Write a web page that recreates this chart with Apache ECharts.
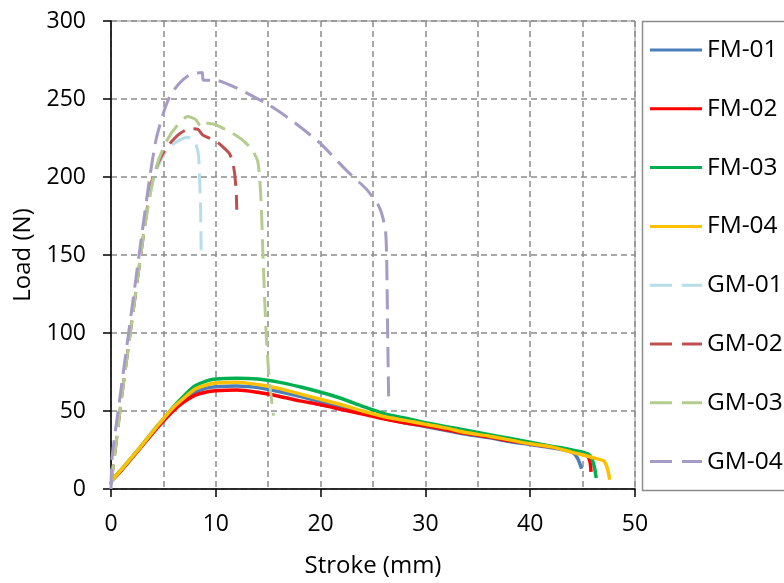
<!DOCTYPE html>
<html>
<head>
<meta charset="utf-8">
<script src="https://cdn.jsdelivr.net/npm/echarts@6/dist/echarts.min.js"></script>
<style>html,body{margin:0;padding:0;background:#fff;}#c{width:784px;height:583px;}</style>
</head>
<body>
<div id="c"></div>
<script>
// ---- data (stroke mm, load N) ----
var seriesNames = ['FM-01','FM-02','FM-03','FM-04','GM-01','GM-02','GM-03','GM-04'];
var xTicks = [0,10,20,30,40,50];
var yTicks = [0,50,100,150,200,250,300];

var fm01 = [[0,5],[1,12],[2,20],[3,28],[4,36],[5,44],[6,51.5],[7,57.5],[8,62],[9,64.5],[10,65.5],[12,66],[14,65],[16,62.5],[18,59.5],[20,56],[22,52.5],[24,49],[26,45.5],[28,42.5],[30,40],[32,37.5],[34,35],[36,33],[38,30.5],[40,28.5],[42,26.5],[44,23.5],[44.5,20],[44.9,13]];
var fm02 = [[0,5],[1,12],[2,20],[3,28],[4,36],[5,43.5],[6,50.5],[7,56],[8,60],[9,62],[10,63],[12,63.5],[14,62],[16,59.5],[18,56.5],[20,54],[22,51],[24,48],[26,45],[28,42.5],[30,40.5],[32,38],[34,35.5],[36,33.5],[38,31],[40,29],[42,27],[44,24.5],[45.5,21],[45.8,11]];
var fm03 = [[0,5],[1,12.5],[2,20.5],[3,28.5],[4,37],[5,45],[6,53],[7,60],[8,66],[9,69],[10,70.5],[12,71],[14,70.5],[16,68.5],[18,65.5],[20,62],[22,58],[24,53],[26,48.5],[28,45.5],[30,42.5],[32,40],[34,37.5],[36,35],[38,32.5],[40,30],[42,27.5],[44,25],[45.7,21.5],[46.3,7]];
var fm04 = [[0,5],[1,12.5],[2,20.5],[3,28.5],[4,37],[5,45],[6,52.5],[7,58.5],[8,64],[9,66.5],[10,68],[12,68.5],[14,67],[16,64.5],[18,61],[20,57.5],[22,54],[24,50],[26,46.5],[28,44],[30,41.5],[32,39],[34,36],[36,34],[38,31.5],[40,29],[42,27],[44,23.5],[46.3,19.5],[47.1,17.5],[47.6,6]];
var gm01 = [[0,3],[0.5,30],[1,58],[2,108],[3,158],[3.5,180],[4,197],[4.5,207],[5,214],[5.6,219.5],[6.5,223.5],[7.3,225.5],[7.8,224],[8.1,221],[8.35,214],[8.45,200],[8.55,180],[8.6,153]];
var gm02 = [[0,3],[0.5,30],[1,58],[2,108],[3,158],[3.5,182],[3.8,195],[4.5,209],[5.3,219],[6.5,227.5],[7.5,231],[8.3,230.5],[8.75,227],[10,223],[10.8,218.5],[11.3,215],[11.6,210],[11.8,202],[11.95,190],[12,179]];
var gm03 = [[0,3],[0.5,30],[1,58],[2,108],[3,158],[3.5,180],[4,198],[4.6,212],[5.3,223],[6.2,232],[7.3,238.8],[8.1,236.7],[8.5,233],[8.6,235],[9.1,234.6],[10,233.5],[11.6,228],[12.5,224],[13.2,219.6],[13.6,216],[14,210],[14.2,198],[14.35,180],[14.5,150],[14.8,100],[15.1,70],[15.5,47]];
var gm04 = [[0,0],[0.1,20],[1,66],[2,116],[3,166],[3.7,200],[4.3,224],[5,241],[5.6,251.5],[6.5,260],[7.5,265.5],[8.7,267],[8.8,262],[10,262],[12.3,256],[15.1,246],[17.3,236],[19.9,222],[22.5,204],[24.4,192],[25.5,182],[25.9,175],[26.2,165],[26.3,150],[26.4,100],[26.5,55]];

var allData = [fm01,fm02,fm03,fm04,gm01,gm02,gm03,gm04];
var colors = ['#4a7ebb','#ff0000','#00b050','#ffc000','#b7dde8','#c0504d','#b4cc8e','#a69bc4'];

var FONT = '"Open Sans", sans-serif';
var series = seriesNames.map(function(n,i){
  var dashed = i >= 4;
  return {
    name: n, type: 'line', data: allData[i], symbol: 'none', showSymbol: false,
    smooth: dashed ? 0.2 : 0.3,
    lineStyle: {color: colors[i], width: dashed ? 3 : 3.5, type: dashed ? [20,9] : 'solid', cap: 'butt'},
    itemStyle: {color: colors[i]},
    z: 2 + i
  };
});

// legend drawn as graphic elements (line sample + real text)
var legendGraphics = [{
  type: 'rect', shape: {x: 642.5, y: 21.5, width: 200, height: 469},
  style: {fill: 'none', stroke: '#8c8c8c', lineWidth: 1.5}, silent: true, z: 0
}];
seriesNames.forEach(function(n,i){
  var cy = 50 + i * 58.8;
  var dashed = i >= 4;
  legendGraphics.push({
    type: 'line', shape: {x1: 650, y1: cy, x2: 702, y2: cy},
    style: {stroke: colors[i], lineWidth: 3, lineDash: dashed ? [22,10] : null, lineCap: 'butt'},
    silent: true, z: 10
  });
  legendGraphics.push({
    type: 'text', x: 707, y: cy,
    style: {text: n, fill: '#000', font: '24.5px ' + FONT, textVerticalAlign: 'middle', verticalAlign: 'middle', textAlign: 'left', align: 'left'},
    silent: true, z: 10
  });
});

var chart = echarts.init(document.getElementById('c'), null, {renderer:'canvas'});
chart.setOption({
  animation: false,
  backgroundColor: '#fff',
  color: colors,
  grid: {left: 111, top: 21, right: 149, bottom: 93, show: true, borderColor: '#8c8c8c', borderWidth: 1},
  xAxis: {
    type: 'value', min: xTicks[0], max: xTicks[xTicks.length-1], interval: 10,
    name: 'Stroke (mm)', nameLocation: 'middle', nameGap: 65,
    nameTextStyle: {fontFamily: FONT, fontSize: 24, color: '#000'},
    axisLine: {show: true, onZero: false, lineStyle: {color: '#000', width: 1.5}},
    axisTick: {show: true, inside: false, length: 8, lineStyle: {color: '#000', width: 1.5}},
    minorTick: {show: false, splitNumber: 2},
    axisLabel: {fontFamily: FONT, fontSize: 23, color: '#000', margin: 24},
    splitLine: {show: true, lineStyle: {color: '#8c8c8c', type: [6,4], width: 1.5}},
    minorSplitLine: {show: true, lineStyle: {color: '#8c8c8c', type: [6,4], width: 1.5}}
  },
  yAxis: {
    type: 'value', min: yTicks[0], max: yTicks[yTicks.length-1], interval: 50,
    name: 'Load (N)', nameLocation: 'middle', nameGap: 76,
    nameTextStyle: {fontFamily: FONT, fontSize: 24, color: '#000'},
    axisLine: {show: true, onZero: false, lineStyle: {color: '#000', width: 1.5}},
    axisTick: {show: true, inside: false, length: 8, lineStyle: {color: '#000', width: 1.5}},
    axisLabel: {fontFamily: FONT, fontSize: 23, color: '#000', margin: 25},
    splitLine: {show: true, lineStyle: {color: '#8c8c8c', type: [6,4], width: 1.5}}
  },
  graphic: legendGraphics,
  series: series
});
</script>
</body>
</html>
